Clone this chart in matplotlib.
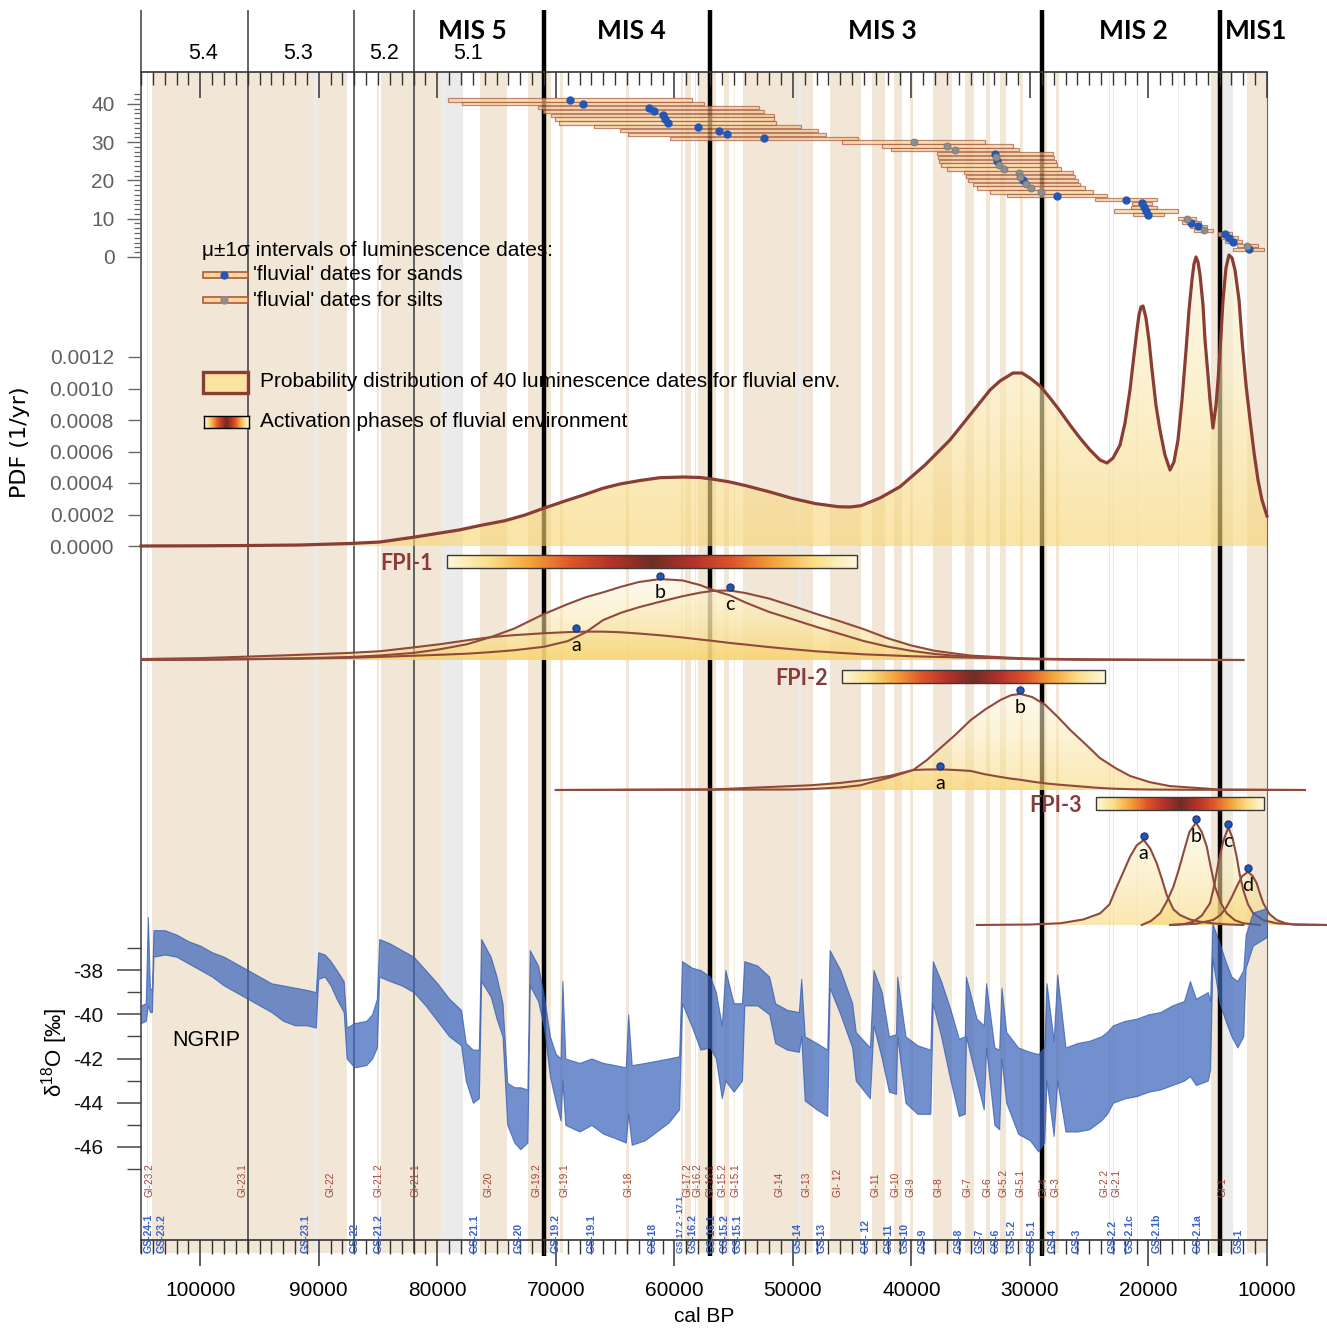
import numpy as np
import matplotlib
matplotlib.use('Agg')
import matplotlib.pyplot as plt
from matplotlib.colors import LinearSegmentedColormap
from matplotlib.patches import Rectangle, PathPatch
from matplotlib.ticker import FixedLocator, MultipleLocator
import matplotlib.transforms as mtransforms

plt.rcParams['font.family'] = ['Liberation Sans', 'DejaVu Sans']
plt.rcParams['mathtext.fontset'] = 'custom'
plt.rcParams['mathtext.rm'] = 'Liberation Sans'
plt.rcParams['axes.unicode_minus'] = False

# ── data ──────────────────────────────────────────────────────────────────────
# MIS boundaries (cal BP)
mis_bounds = [71000, 57000, 29000, 14000]
sub_bounds = [105000, 96000, 87000, 82000]
mis_names = ['MIS 5', 'MIS 4', 'MIS 3', 'MIS 2', 'MIS1']
mis_pos = [77030, 63630, 42460, 21300, 10930]
sub_names = ['5.4', '5.3', '5.2', '5.1']
sub_pos = [99800, 91790, 84460, 77370]

# Greenland interstadials (beige) and short stadials (grey)
gi_band_old = [104520, 104040, 90040, 85060, 84760, 76440, 72340, 69620, 64100, 59440,
               59080, 58280, 58040, 55800, 55000, 54220, 49280, 46860, 43340, 41460,
               40160, 38220, 35480, 33740, 32500, 30840, 28900, 27780, 23340, 23020,
               14692, 11703]
gi_band_young = [104380, 90400, 87600, 84960, 79700, 74100, 70380, 69400, 63840, 59300,
                 58560, 58160, 56500, 55400, 54900, 49600, 48340, 44280, 42240, 40800,
                 39900, 36580, 34740, 33360, 32040, 30600, 28600, 27540, 23220, 22900,
                 13700, 10000]
gs_band_old = [90400, 79700, 49600, 20950, 17530, 13700]
gs_band_young = [90040, 77800, 49280, 20850, 17430, 12900]

gi_labels = ['GI-23.2', 'GI-23.1', 'GI-22', 'GI-21.2', 'GI-21.1', 'GI-20', 'GI-19.2',
             'GI-19.1', 'GI-18', 'GI-17.2', 'GI-16.2', 'GI-16.1', 'GI-15.2', 'GI-15.1',
             'GI-14', 'GI-13', 'GI- 12', 'GI-11', 'GI-10', 'GI-9', 'GI-8', 'GI-7', 'GI-6',
             'GI-5.2', 'GI-5.1', 'GI-4', 'GI-3', 'GI-2.2', 'GI-2.1', 'GI-1']
gi_label_age = [104260, 96450, 89020, 84960, 81830, 75700, 71610, 69240, 63850, 58920,
                58020, 56980, 55900, 54880, 51170, 48870, 46170, 43000, 41370, 40060,
                37680, 35230, 33600, 32230, 30830, 28860, 27820, 23710, 22660, 13790]
gs_labels = ['GS-24-1', 'GS-23.2', 'GS-23.1', 'GS-22', 'GS-21.2', 'GS-21.1', 'GS-20',
             'GS-19.2', 'GS-19.1', 'GS-18', 'GS-17.2 - 17.1', 'GS-16.2', 'GS-16.1',
             'GS-15.2', 'GS-15.1', 'GS-14', 'GS-13', 'GS- 12', 'GS-11', 'GS-10', 'GS-9',
             'GS-8', 'GS-7', 'GS-6', 'GS-5.2', 'GS-5.1', 'GS-4', 'GS-3', 'GS-2.2',
             'GS-2.1c', 'GS-2.1b', 'GS-2.1a', 'GS-1']
gs_label_age = [104320, 103290, 91090, 86990, 84960, 76830, 73120, 69990, 66980, 61820,
                59470, 58430, 56820, 55740, 54660, 49600, 47570, 43790, 41920, 40550,
                39080, 35980, 34250, 32880, 31580, 29850, 28110, 26090, 23050, 21590,
                19300, 15880, 12380]

# luminescence dates (mean and 1 sigma, years)
date_age = [68830, 67730, 62170, 61750, 60990, 60820, 60570, 58040, 56230, 55560,
            52440, 39820, 36960, 36330, 32940, 32850, 32740, 32600, 32150, 30940,
            30800, 30600, 30320, 29930, 29030, 27730, 21910, 20520, 20370, 20200,
            20030, 16770, 16380, 15790, 15340, 13540, 13180, 12840, 11660, 11540]
date_err = [10300, 10190, 9320, 9350, 9380, 9250, 9140, 8710, 8390, 8320,
            7900, 6010, 5520, 5410, 4920, 4920, 4900, 4920, 4810, 4610,
            4600, 4620, 4510, 4550, 4320, 4220, 2630, 840, 1120, 2720,
            1310, 770, 780, 700, 800, 590, 730, 700, 910, 1310]
date_type = ['sand'] * 11 + ['silt', 'silt', 'silt', 'sand', 'silt', 'sand', 'silt', 'silt',
                             'silt', 'silt', 'sand', 'silt', 'silt', 'silt', 'sand', 'sand',
                             'sand', 'sand', 'sand', 'sand', 'silt', 'sand', 'sand', 'silt',
                             'sand', 'sand', 'sand', 'silt', 'sand']

# summed probability distribution (1/yr)
pdf_age = [105000, 100020, 95800, 91590, 87370, 84840, 82050, 79770, 78170, 76400,
           74290, 72600, 71030, 69230, 67540, 66040, 64590, 62900, 61210, 59270,
           57840, 56840, 55310, 53960, 51930, 50080, 48140, 46190, 45180, 44250,
           42650, 40960, 38850, 36750, 35060, 33370, 32530, 31430, 30670, 30000,
           29150, 28310, 27460, 26620, 25780, 24930, 24090, 23500, 22990, 22400,
           21980, 21560, 21220, 20970, 20800, 20630, 20460, 20210, 19960, 19700,
           19370, 19030, 18610, 18180, 17850, 17510, 17170, 16830, 16580, 16330,
           16160, 15990, 15820, 15650, 15400, 15230, 14980, 14810, 14560, 14300,
           14130, 13880, 13710, 13460, 13210, 12950, 12700, 12360, 12110, 11770,
           11430, 11100, 10760, 10420, 10000]
pdf_val = [0.0, 0.0000013, 0.0000032, 0.0000063, 0.0000159, 0.0000254, 0.0000552, 0.0000825, 0.0001016, 0.0001302,
           0.0001606, 0.0001968, 0.0002394, 0.0002857, 0.0003270, 0.0003663, 0.0003937, 0.0004159, 0.0004337, 0.0004381,
           0.0004349, 0.0004254, 0.0004063, 0.0003829, 0.0003429, 0.0003029, 0.0002698, 0.0002495, 0.0002476, 0.0002559,
           0.0003048, 0.0003765, 0.0005143, 0.0006730, 0.0008317, 0.0009905, 0.0010476, 0.0010984, 0.0010984, 0.0010667,
           0.0010159, 0.0009397, 0.0008571, 0.0007683, 0.0006857, 0.0006095, 0.0005460, 0.0005270, 0.0005587, 0.0006413,
           0.0007810, 0.0009905, 0.0012127, 0.0013714, 0.0014667, 0.0015175, 0.0015238, 0.0014476, 0.0013079, 0.0011175,
           0.0008952, 0.0007365, 0.0005778, 0.0004825, 0.0005333, 0.0006730, 0.0009270, 0.0012444, 0.0014984, 0.0016889,
           0.0017905, 0.0018350, 0.0018032, 0.0017206, 0.0015302, 0.0013079, 0.0010857, 0.0009270, 0.0007492, 0.0008952,
           0.0010540, 0.0013397, 0.0015619, 0.0017651, 0.0018476, 0.0018286, 0.0017524, 0.0015619, 0.0013079, 0.0010222,
           0.0008000, 0.0005968, 0.0004190, 0.0002920, 0.0001905]

# FPI-1 components
fpi1_age = [105000, 100000, 95800, 91600, 87400, 84800, 82000, 79800, 77500, 75500,
            73500, 71000, 69000, 67500, 66000, 64500, 63000, 61200, 59300, 57800,
            56600, 55300, 54000, 52000, 50000, 48000, 46000, 44000, 42000, 40000,
            38000, 35000, 30000, 25000, 20000, 12000]
fpi1_a = [0.000006, 0.000012, 0.000022, 0.000033, 0.000045, 0.000056, 0.000080, 0.000100, 0.000125, 0.000145,
          0.000158, 0.000170, 0.000177, 0.000180, 0.000180, 0.000176, 0.000168, 0.000157, 0.000143, 0.000130,
          0.000120, 0.000108, 0.000098, 0.000082, 0.000068, 0.000055, 0.000045, 0.000036, 0.000030, 0.000024,
          0.000020, 0.000015, 0.000009, 0.000004, 0.000002, 0.0]
fpi1_b = [0.0, 0.000002, 0.000006, 0.000011, 0.000019, 0.000029, 0.000045, 0.000068, 0.000100, 0.000145,
          0.000200, 0.000292, 0.000355, 0.000398, 0.000430, 0.000465, 0.000495, 0.000514, 0.000505, 0.000475,
          0.000440, 0.000410, 0.000365, 0.000305, 0.000258, 0.000210, 0.000165, 0.000120, 0.000085, 0.000058,
          0.000038, 0.000019, 0.000005, 0.000001, 0.0, 0.0]
fpi1_c = [0.0, 0.000002, 0.000005, 0.000008, 0.000014, 0.000020, 0.000027, 0.000033, 0.000040, 0.000050,
          0.000062, 0.000084, 0.000120, 0.000175, 0.000254, 0.000300, 0.000335, 0.000370, 0.000405, 0.000428,
          0.000440, 0.000441, 0.000425, 0.000390, 0.000342, 0.000292, 0.000245, 0.000195, 0.000138, 0.000092,
          0.000058, 0.000028, 0.000008, 0.000002, 0.000001, 0.0]
fpi1_bar = (79180, 44590)
fpi1_mode_age = [68300, 61200, 55300]
fpi1_mode_val = [0.000179, 0.000514, 0.000441]
fpi1_tags = ['a', 'b', 'c']

# FPI-2 components
fpi2_age = [70000, 56600, 50100, 48500, 46000, 44300, 43700, 41800, 39850, 38700, 37550,
            36300, 35000, 33800, 32500, 31600, 30800, 29800, 28700, 27600, 26600,
            25300, 24100, 22800, 21550, 19900, 18200, 14000, 6800]
fpi2_a = [0.0, 0.000004, 0.000025, 0.000030, 0.000045, 0.000060, 0.000066, 0.000090, 0.000127, 0.000130, 0.000131,
          0.000127, 0.000121, 0.000100, 0.000083, 0.000072, 0.000065, 0.000053, 0.000042, 0.000034, 0.000028,
          0.000020, 0.000013, 0.000008, 0.000005, 0.000003, 0.000002, 0.000001, 0.0]
fpi2_b = [0.0, 0.000002, 0.000003, 0.000006, 0.000016, 0.000030, 0.000043, 0.000080, 0.000127, 0.000190, 0.000267,
          0.000350, 0.000444, 0.000510, 0.000571, 0.000602, 0.000610, 0.000590, 0.000540, 0.000460, 0.000381,
          0.000290, 0.000203, 0.000140, 0.000089, 0.000050, 0.000025, 0.000003, 0.0]
fpi2_bar = (45860, 23670)
fpi2_mode_age = [37590, 30840]
fpi2_mode_val = [0.000131, 0.000610]
fpi2_tags = ['a', 'b']

# FPI-3 components
fpi3_a_age = [34480, 30000, 27450, 25500, 24080, 23300, 22670, 22100, 21550, 21000, 20400,
              19850, 19300, 18860, 18460, 17900, 17340, 16500, 15650, 14500, 13400, 12000]
fpi3_a = [0.0, 0.000003, 0.000011, 0.000035, 0.000074, 0.000130, 0.000243, 0.000340, 0.000434, 0.000505, 0.000540,
          0.000485, 0.000392, 0.000290, 0.000190, 0.000100, 0.000063, 0.000035, 0.000021, 0.000010, 0.000004, 0.0]
fpi3_b_age = [20570, 19800, 19020, 18450, 17900, 17450, 17060, 16550, 15990, 15500, 15080,
              14750, 14390, 13900, 13400, 12700, 12000, 10600]
fpi3_b = [0.0, 0.000025, 0.000074, 0.000150, 0.000243, 0.000350, 0.000455, 0.000590, 0.000650, 0.000590, 0.000497,
          0.000370, 0.000243, 0.000140, 0.000074, 0.000030, 0.000011, 0.0]
fpi3_c_age = [18180, 17000, 16210, 15500, 14810, 14450, 14110, 13700, 13265, 12900, 12560,
              12300, 12000, 11600, 11160, 10300, 9180, 7500, 4940]
fpi3_c = [0.0, 0.000006, 0.000021, 0.000060, 0.000138, 0.000250, 0.000392, 0.000530, 0.000620, 0.000550, 0.000434,
          0.000320, 0.000222, 0.000130, 0.000074, 0.000030, 0.000011, 0.000002, 0.0]
fpi3_d_age = [18180, 16000, 14530, 13900, 13400, 12950, 12560, 12100, 11600, 11200, 10870,
              10600, 10310, 9800, 9180, 8500, 7780, 4940]
fpi3_d = [0.0, 0.000008, 0.000032, 0.000065, 0.000116, 0.000180, 0.000243, 0.000310, 0.000338, 0.000310, 0.000265,
          0.000200, 0.000138, 0.000070, 0.000032, 0.000012, 0.000004, 0.0]
fpi3_bar = (24430, 10250)
fpi3_mode_age = [20400, 15990, 13265, 11600]
fpi3_mode_val = [0.000540, 0.000650, 0.000620, 0.000338]
fpi3_tags = ['a', 'b', 'c', 'd']

# NGRIP d18O envelope (upper / lower values of the record)
ngrip_age = [105000, 104600, 104420, 104250, 104080, 103950, 103000, 102000, 101000, 100000,
             99000, 98000, 97000, 96000, 95000, 94000, 93000, 92000, 91000, 90250,
             90050, 89500, 89000, 88500, 87900, 87650, 87000, 86000, 85500, 85100,
             84900, 84000, 83000, 82000, 81000, 80000, 79000, 78000, 77600, 77000,
             76500, 76300, 75500, 75000, 74500, 74100, 73500, 73000, 72400, 72200,
             71500, 71000, 70500, 70000, 69600, 69450, 69200, 68000, 67000, 66000,
             65000, 64100, 63900, 63600, 62500, 61500, 60500, 59600, 59350, 58500,
             57800, 57000, 56500, 56000, 55700, 55000, 54300, 54100, 53000, 52000,
             51500, 50500, 49500, 49300, 49000, 48000, 47100, 46900, 46000, 45000,
             44700, 43500, 43200, 42500, 41900, 41300, 41200, 40500, 39500, 38400,
             38200, 37500, 36700, 36000, 35500, 35400, 34500, 33900, 33700, 33000,
             32600, 32400, 32000, 31000, 30000, 29300, 28800, 28600, 28000, 27700,
             27000, 26000, 25000, 24000, 23500, 23000, 22000, 21000, 20000, 19000,
             18000, 17000, 16500, 16000, 15000, 14800, 14600, 14000, 13500, 13000,
             12500, 12000, 11800, 11200, 10000]
ngrip_hi = [-39.6, -39.5, -35.6, -38.8, -38.9, -36.2, -36.2, -36.4, -36.7, -36.9,
            -37.2, -37.4, -37.7, -38.0, -38.3, -38.6, -38.7, -38.8, -38.9, -39.0,
            -37.2, -37.3, -37.6, -38.0, -38.5, -40.6, -40.4, -40.3, -40.0, -39.3,
            -36.6, -36.8, -37.1, -37.4, -38.0, -38.6, -39.3, -39.8, -41.3, -41.6,
            -41.6, -36.6, -37.4, -38.3, -39.5, -43.1, -43.3, -43.3, -43.4, -37.1,
            -37.8, -39.2, -41.0, -41.8, -42.0, -38.5, -42.0, -42.2, -42.0, -42.2,
            -42.3, -42.4, -40.0, -42.3, -42.2, -42.1, -42.0, -41.9, -37.6, -37.9,
            -38.0, -38.3, -39.0, -40.5, -38.0, -39.5, -39.5, -37.6, -37.8, -38.3,
            -39.5, -39.8, -39.9, -38.4, -41.0, -41.3, -41.6, -37.1, -38.0, -39.5,
            -40.8, -41.5, -38.0, -39.0, -41.0, -40.9, -38.3, -41.0, -41.4, -41.6,
            -37.6, -38.5, -39.8, -41.1, -41.0, -38.3, -40.2, -40.5, -38.6, -41.5,
            -41.6, -38.8, -40.8, -41.5, -41.7, -41.8, -41.5, -38.6, -41.2, -38.2,
            -41.5, -41.3, -41.2, -41.0, -40.8, -40.5, -40.3, -40.2, -40.0, -39.9,
            -39.6, -39.4, -38.5, -39.3, -39.0, -39.4, -35.9, -36.8, -37.6, -38.3,
            -38.5, -38.0, -36.4, -35.4, -35.2]
ngrip_lo = [-40.4, -40.3, -39.6, -39.9, -39.9, -37.4, -37.3, -37.4, -37.7, -38.0,
            -38.3, -38.7, -39.0, -39.3, -39.6, -39.9, -40.3, -40.5, -40.5, -40.6,
            -38.4, -38.3, -38.7, -39.3, -39.9, -42.0, -42.4, -42.3, -42.0, -41.5,
            -38.3, -38.5, -38.7, -39.0, -39.6, -40.3, -41.0, -41.4, -43.0, -44.0,
            -43.8, -38.5, -39.2, -40.2, -41.0, -45.0, -45.8, -46.1, -45.8, -38.7,
            -39.4, -40.6, -42.8, -44.0, -44.8, -43.0, -45.0, -45.3, -45.0, -45.4,
            -45.6, -45.8, -44.5, -45.9, -45.7, -45.3, -44.9, -44.3, -39.5, -40.6,
            -41.6, -41.5, -42.0, -43.8, -43.0, -43.5, -43.0, -39.6, -39.6, -40.0,
            -41.3, -41.6, -41.7, -41.0, -43.9, -44.3, -44.6, -38.8, -40.0, -41.5,
            -43.0, -43.8, -40.5, -42.0, -43.5, -43.6, -41.0, -44.0, -44.5, -44.5,
            -39.5, -41.0, -43.0, -44.6, -44.5, -41.0, -43.0, -44.3, -41.5, -45.0,
            -45.2, -42.0, -44.0, -45.4, -45.7, -46.2, -45.8, -43.0, -45.5, -43.0,
            -45.3, -45.3, -45.2, -44.8, -44.5, -44.0, -43.8, -43.7, -43.5, -43.4,
            -43.2, -43.0, -42.8, -43.2, -43.0, -42.5, -37.5, -39.5, -40.3, -41.0,
            -41.5, -41.0, -37.9, -36.9, -36.5]

# ── colours ───────────────────────────────────────────────────────────────────
BEIGE = '#f2e6d7'
LGRAY = '#ebebeb'
BROWN = '#8a3d33'
CURVE = '#8f4a3c'
FPIRED = '#8b3a3a'
BLUE = '#2456b4'
GRAYDOT = '#8e8e8e'
NGRIP = '#3d66bb'
GI_COL = '#a0463c'
GS_COL = '#3a62c8'

CMAP_FPI = LinearSegmentedColormap.from_list('fpi', [
    '#fdf8de', '#fbe08a', '#f5a43c', '#e0562a', '#b5322a', '#6e2e24',
    '#b5322a', '#e0562a', '#f5a43c', '#fbe08a', '#fdf8de'])
CMAP_FILL = LinearSegmentedColormap.from_list('fill', ['#f8d572', '#fae8b0', '#fdf6e0'])

# ── layout (pixels of the 1327 x 1329 canvas) ─────────────────────────────────
W, H = 1327, 1329
PX_L, PX_R = 141, 1267
AGE_L, AGE_R = 105000, 10000
YR_PER_PX = (AGE_L - AGE_R) / (PX_R - PX_L)
PX_PER_PDF = 157500.0


def age_at(px):
    return AGE_R + (PX_R - px) * YR_PER_PX


fig = plt.figure(figsize=(W / 100, H / 100), dpi=100)


def panel(px_left, px_right, px_top, px_bot, ylim, z):
    ax = fig.add_axes([px_left / W, 1 - px_bot / H, (px_right - px_left) / W,
                       (px_bot - px_top) / H], zorder=z)
    ax.set_xlim(age_at(px_left), age_at(px_right))
    ax.set_ylim(*ylim)
    ax.patch.set_visible(False)
    for sp in ax.spines.values():
        sp.set_visible(False)
    ax.set_xticks([])
    ax.set_yticks([])
    return ax


def pdf_panel(px_right, px_top, px_bot, px_base, z):
    return panel(PX_L, px_right, px_top, px_bot,
                 (-(px_bot - px_base) / PX_PER_PDF, (px_base - px_top) / PX_PER_PDF), z)


def grad_fill(ax, x, y, top, alpha, z):
    poly = ax.fill_between(x, y, 0, facecolor='none', edgecolor='none')
    clip = PathPatch(poly.get_paths()[0], transform=ax.transData,
                     facecolor='none', edgecolor='none')
    ax.add_patch(clip)
    im = ax.imshow(np.linspace(0, 1, 200).reshape(-1, 1), cmap=CMAP_FILL, aspect='auto',
                   origin='lower', extent=[max(x), min(x), 0, top], alpha=alpha,
                   zorder=z, interpolation='bilinear')
    im.set_clip_path(clip)


def fpi_curves(ax, curves, top):
    for x, y in curves:
        grad_fill(ax, x, y, top, 0.55, 2)
        ax.plot(x, y, color=CURVE, lw=1.5, zorder=3, solid_joinstyle='round')


def fpi_modes(ax, ages, vals, tags):
    up = ax.transData + mtransforms.ScaledTranslation(0, 2.5 / 72, fig.dpi_scale_trans)
    ax.plot(ages, vals, 'o', ms=5.2, mfc=BLUE, mec='#1d326a', mew=0.8, transform=up, zorder=6)
    for a, v, t in zip(ages, vals, tags):
        ax.annotate(t, (a, v), xytext=(0, -10), textcoords='offset points', ha='center',
                    va='center', fontsize=14, family=['Lato', 'DejaVu Sans'], zorder=6)


def fpi_bar(ax, span, off_top, off_bot, label):
    y0, y1 = off_bot / PX_PER_PDF, off_top / PX_PER_PDF
    ax.imshow(np.linspace(0, 1, 256).reshape(1, -1), cmap=CMAP_FPI, aspect='auto',
              extent=[span[0], span[1], y0, y1], zorder=4, interpolation='bilinear')
    ax.add_patch(Rectangle((span[1], y0), span[0] - span[1], y1 - y0, fill=False,
                           ec='#3a3a3a', lw=1.0, zorder=5))
    ax.annotate(label, (span[0], (y0 + y1) / 2), xytext=(-10, -1.5), textcoords='offset points',
                ha='right', va='center', fontsize=15.5, fontweight='bold', color=FPIRED,
                family=['Lato', 'DejaVu Sans'])


# ── background: interstadials, MIS lines, time axes ──────────────────────────
bg = panel(PX_L, PX_R, 72, 1240, (0, 1), 0)
for o, y in zip(gi_band_old, gi_band_young):
    bg.axvspan(o, y, ymin=-0.0115, ymax=1, fc=BEIGE, lw=0, clip_on=False, zorder=0)
for o, y in zip(gs_band_old, gs_band_young):
    bg.axvspan(o, y, ymin=-0.0115, ymax=1, fc=LGRAY, lw=0, clip_on=False, zorder=0)
xt = bg.get_xaxis_transform()
bg.vlines(sub_bounds, -0.0111, 1.053, transform=xt, colors='#3a3a3a', lw=1.1,
          clip_on=False, zorder=1)
bg.vlines(mis_bounds, -0.0135, 1.053, transform=xt, colors='black', lw=3.2,
          clip_on=False, zorder=1)
for name, pos in zip(mis_names, mis_pos):
    bg.text(pos, 1.035, name, transform=xt, ha='center', va='center', fontsize=19,
            fontweight='bold', family=['Lato', 'DejaVu Sans'])
for name, pos in zip(sub_names, sub_pos):
    bg.text(pos, 1.0155, name, transform=xt, ha='center', va='center', fontsize=15.5)
for name, pos in zip(gi_labels, gi_label_age):
    bg.text(pos, 0.0365, name, transform=xt, rotation=90, ha='center', va='bottom',
            fontsize=7.3, color=GI_COL)
for name, pos in zip(gs_labels, gs_label_age):
    bg.text(pos, -0.0108, name, transform=xt, rotation=90, ha='center', va='bottom',
            fontsize=6.2 if len(name) > 9 else 7.6, color=GS_COL, fontweight='bold')

bg.spines['bottom'].set_visible(True)
bg.spines['bottom'].set_color('#333333')
bg.spines['bottom'].set_linewidth(1.2)
bg.spines['right'].set_visible(True)
bg.spines['right'].set_color('#666666')
bg.xaxis.set_major_locator(FixedLocator(list(range(10000, 100001, 10000))))
bg.xaxis.set_minor_locator(MultipleLocator(1000))
bg.tick_params(axis='x', which='major', direction='out', length=18.5, width=1.1,
               color='#333333', pad=11, labelsize=15)
bg.tick_params(axis='x', which='minor', direction='out', length=10, width=1.0, color='#333333')
bg.set_xlabel('cal BP', fontsize=15, labelpad=5)

top = panel(PX_L, PX_R, 72, 1240, (0, 1), 0.5)
top.spines['top'].set_visible(True)
top.spines['top'].set_color('#333333')
top.spines['top'].set_linewidth(1.2)
top.xaxis.set_ticks_position('top')
top.xaxis.set_major_locator(FixedLocator(list(range(10000, 100001, 10000))))
top.xaxis.set_minor_locator(MultipleLocator(1000))
top.tick_params(axis='x', which='major', direction='in', length=19, width=1.1,
                color='#333333', labeltop=False)
top.tick_params(axis='x', which='minor', direction='in', length=9.4, width=1.0, color='#333333')

# ── luminescence dates ───────────────────────────────────────────────────────
DATE_PX = 3.83
ax_d = panel(PX_L, PX_R, 72, 270, (-(270 - 257) / DATE_PX, (257 - 72) / DATE_PX), 3)
rows = np.arange(len(date_age) + 1, 1, -1)
ages = np.array(date_age)
errs = np.array(date_err)
ax_d.barh(rows, 2 * errs, left=ages - errs, height=0.85, color='#fbd393', alpha=0.68,
          edgecolor='#a4533e', linewidth=0.9, zorder=2)
is_sand = np.array([t == 'sand' for t in date_type])
ax_d.plot(ages[is_sand], rows[is_sand], 'o', ms=5, mfc=BLUE, mec=BLUE, zorder=4)
ax_d.plot(ages[~is_sand], rows[~is_sand], 'o', ms=5, mfc=GRAYDOT, mec='#777777', mew=0.6, zorder=4)
ax_d.yaxis.set_major_locator(FixedLocator([0, 10, 20, 30, 40]))
ax_d.yaxis.set_minor_locator(FixedLocator(list(np.arange(0, 43, 1.25))))
ax_d.tick_params(axis='y', which='major', length=10, width=1.0, color='#666666', pad=9,
                 labelsize=15, labelcolor='#5f5f5f')
ax_d.tick_params(axis='y', which='minor', length=5, width=0.9, color='#666666')

# ── summed PDF ────────────────────────────────────────────────────────────────
ax_p = pdf_panel(PX_R, 230, 546, 546, 2)
grad_fill(ax_p, pdf_age, pdf_val, 0.0019, 0.62, 2)
ax_p.plot(pdf_age, pdf_val, color=BROWN, lw=2.3, zorder=3, clip_on=False,
          solid_joinstyle='round')
ax_p.yaxis.set_major_locator(FixedLocator([0, 0.0002, 0.0004, 0.0006, 0.0008, 0.0010, 0.0012]))
ax_p.yaxis.set_major_formatter(lambda v, p: f'{v:.4f}')
ax_p.tick_params(axis='y', which='major', length=9.5, width=1.0, color='#666666', pad=10,
                 labelsize=15, labelcolor='#5f5f5f')

# ── fluvial phases FPI-1..3 ──────────────────────────────────────────────────
ax1 = pdf_panel(PX_R, 546, 668, 660, 2)
fpi_curves(ax1, [(fpi1_age, fpi1_a), (fpi1_age, fpi1_c), (fpi1_age, fpi1_b)], 0.00052)
fpi_bar(ax1, fpi1_bar, 105, 92, 'FPI-1')
fpi_modes(ax1, fpi1_mode_age, fpi1_mode_val, fpi1_tags)

ax2 = pdf_panel(1327, 668, 798, 790, 2)
fpi_curves(ax2, [(fpi2_age, fpi2_a), (fpi2_age, fpi2_b)], 0.00062)
fpi_bar(ax2, fpi2_bar, 120, 107, 'FPI-2')
fpi_modes(ax2, fpi2_mode_age, fpi2_mode_val, fpi2_tags)

ax3 = pdf_panel(1327, 795, 935, 925, 2)
fpi_curves(ax3, [(fpi3_a_age, fpi3_a), (fpi3_b_age, fpi3_b), (fpi3_c_age, fpi3_c),
                 (fpi3_d_age, fpi3_d)], 0.00066)
fpi_bar(ax3, fpi3_bar, 128, 115, 'FPI-3')
fpi_modes(ax3, fpi3_mode_age, fpi3_mode_val, fpi3_tags)


# ── NGRIP ─────────────────────────────────────────────────────────────────────
def d18o_at(px):
    return -38 - (px - 970) / 22.125


ax_n = panel(PX_L, PX_R, 905, 1175, (d18o_at(1175), d18o_at(905)), 2)
ax_n.fill_between(ngrip_age, ngrip_lo, ngrip_hi, facecolor=NGRIP, alpha=0.72,
                  edgecolor='#2f58b0', lw=0.8, zorder=2)
ax_n.yaxis.set_major_locator(FixedLocator([-46, -44, -42, -40, -38]))
ax_n.yaxis.set_minor_locator(FixedLocator([-47, -45, -43, -41, -39, -37]))
ax_n.tick_params(axis='y', which='major', length=17, width=1.1, color='#444444', pad=10,
                 labelsize=15, labelcolor='#111111')
ax_n.tick_params(axis='y', which='minor', length=10, width=1.0, color='#444444')

# keep every panel on its own scale after the images were added
for a in (ax_p, ax1):
    a.set_xlim(AGE_L, AGE_R)
ax2.set_xlim(AGE_L, age_at(1327))
ax3.set_xlim(AGE_L, age_at(1327))


# ── legends and labels (figure pixels) ───────────────────────────────────────
def fx(px):
    return px / W


def fy(py):
    return 1 - py / H


fig.text(fx(202), fy(250), 'μ±1σ intervals of luminescence dates:', fontsize=15, va='center')
for py, fc, txt in [(275, BLUE, "'fluvial' dates for sands"),
                    (300, GRAYDOT, "'fluvial' dates for silts")]:
    fig.patches.append(Rectangle((fx(203), fy(py + 3)), 45 / W, 6 / H, transform=fig.transFigure,
                                 fc='#fbd79b', ec='#a95a43', lw=1.2))
    fig.lines.append(plt.Line2D([fx(224)], [fy(py)], transform=fig.transFigure, marker='o',
                                ms=5, mfc=fc, mec=fc))
    fig.text(fx(253), fy(py), txt, fontsize=15, va='center')

fig.patches.append(Rectangle((fx(203), fy(393)), 45 / W, 21 / H, transform=fig.transFigure,
                             fc='#fbe3a0', ec=BROWN, lw=2.4))
fig.text(fx(260), fy(382), 'Probability distribution of 40 luminescence dates for fluvial env.',
         fontsize=15, va='center')
sw = fig.add_axes([fx(204), fy(428), 45 / W, 12 / H], zorder=5)
sw.imshow(np.linspace(0, 1, 256).reshape(1, -1), cmap=CMAP_FPI, aspect='auto',
          interpolation='bilinear')
sw.set_xticks([])
sw.set_yticks([])
for sp in sw.spines.values():
    sp.set_linewidth(1.0)
fig.text(fx(260), fy(422), 'Activation phases of fluvial environment', fontsize=15, va='center')

fig.text(fx(20), fy(442), 'PDF (1/yr)', rotation=90, ha='center', va='center', fontsize=16,
         family='DejaVu Sans')
fig.text(fx(55), fy(1052), 'δ$^{18}$O [‰]', rotation=90, ha='center', va='center', fontsize=16)
fig.text(fx(172), fy(1040), 'NGRIP', fontsize=15.5, va='center')

fig.savefig('out.png', dpi=100)
